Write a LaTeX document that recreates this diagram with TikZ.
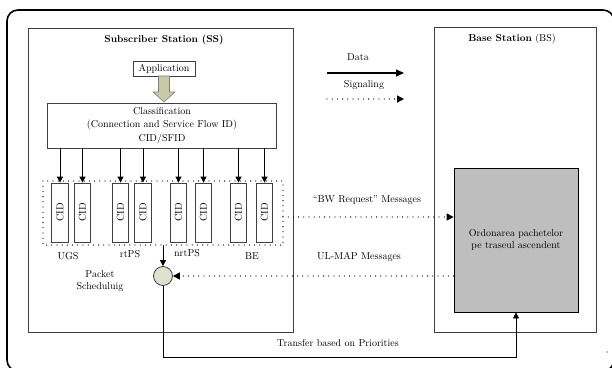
\documentclass[tikz,border=0pt]{standalone}
\usepackage{graphicx}
\usetikzlibrary{arrows.meta}
\definecolor{boxline}{HTML}{404040}
\definecolor{fatfill}{HTML}{C6CAA8}
\definecolor{circfill}{HTML}{DDE2CC}
\definecolor{grayfill}{HTML}{BEBEBE}
\tikzset{
  base/.style={font=\fontsize{10}{12}\selectfont},
  frame/.style={draw=black, line width=1.6pt, rounded corners=11pt},
  panel/.style={draw=boxline, line width=0.8pt},
  plainbox/.style={draw=boxline, line width=0.8pt, inner sep=0pt},
  cidbox/.style={draw=boxline, line width=0.8pt, minimum width=16.5pt, minimum height=59pt, inner sep=0pt},
  arr/.style={line width=0.8pt, -{Triangle[length=6pt,width=6pt]}},
  dotline/.style={line width=1.3pt, line cap=round, dash pattern=on 0pt off 5.2pt},
  dotarr/.style={dotline, -{Triangle[length=7pt,width=7pt]}},
  lbl/.style={base, inner sep=0pt},
}
\begin{document}
\begin{tikzpicture}[x=1pt,y=-1pt]
\useasboundingbox (0,0) rectangle (612,367);
\clip (0,0) rectangle (612,367);
% outer frame
\draw[frame] (7,10) rectangle (614,371);
% panels
\node[panel, minimum width=265pt, minimum height=304pt, inner sep=0pt] (ss) at (160.5,180) {};
\node[panel, minimum width=162pt, minimum height=305pt, inner sep=0pt] (bs) at (515,179.5) {};
\node[lbl, font=\fontsize{10}{12}\selectfont\bfseries] (sst) at (164,40) {Subscriber Station (SS)};
\node[lbl] (bst) at (512,38.5) {\textbf{Base Station} (BS)};
% application
\node[plainbox, minimum width=62pt, minimum height=15pt, base] (app) at (164,68.5) {Application};
% fat arrow
\draw[draw=gray, fill=fatfill, line width=0.6pt] (158.5,76) -- (169.5,76) -- (169.5,92) -- (175,92) -- (164,102) -- (153,92) -- (158.5,92) -- cycle;
% classification
\node[plainbox, minimum width=229pt, minimum height=45pt, align=center, font=\fontsize{10}{13.5}\selectfont] (cls) at (162,125.5) {Classification\\(Connection and Service Flow ID)\\CID/SFID};
% CID boxes
\foreach \i/\x in {1/60,2/82.5,3/120.5,4/143,5/178.5,6/203.5,7/238.5,8/264.5}{
  \node[cidbox] (c\i) at (\x,212.5) {\rotatebox{90}{\fontsize{10}{12}\selectfont CID}};
  \draw[arr] (c\i.north |- cls.south) -- (c\i.north);
}
% dotted group
\draw[dotline] (43,181) rectangle (283,245);
\coordinate (grpbot) at (163,245);
\coordinate (grpright) at (283,217);
\node[lbl] (ugs) at (68,256) {UGS};
\node[lbl] (rtps) at (130,254) {rtPS};
\node[lbl] (nrtps) at (187,253) {nrtPS};
\node[lbl] (be) at (252,256) {BE};
% scheduler
\node[circle, draw=boxline, fill=circfill, line width=0.8pt, minimum size=19pt, inner sep=0pt] (sch) at (163,276) {};
\draw[arr] (grpbot) -- (sch.north);
\node[lbl, align=center, font=\fontsize{10}{12}\selectfont] (schl) at (100,281) {Packet\\Scheduluig};
% BS scheduler box
\node[draw=black, fill=grayfill, line width=0.8pt, minimum width=124pt, minimum height=144pt, inner sep=0pt, align=center, font=\fontsize{10}{12}\selectfont] (ord) at (516,240) {Ordonarea pachetelor\\pe traseul ascendent};
% messages
\draw[dotarr] (grpright) -- (grpright -| ord.west);
\node[lbl] (bwl) at (367,200) {``BW Request'' Messages};
\draw[dotarr] (ord.west |- sch.east) -- (sch.east);
\node[lbl] (ull) at (359,257) {UL-MAP Messages};
% transfer
\coordinate (tr1) at (163,357);
\draw[arr] (sch.south) -- (tr1) -| (ord.south);
\node[lbl] (trl) at (338,343) {Transfer based on Priorities};
% legend
\node[lbl] (datal) at (358,57) {Data};
\coordinate (d1) at (327,73);
\coordinate (d2) at (404,73);
\draw[line width=1.1pt, -{Triangle[length=8pt,width=7pt]}] (d1) -- (d2);
\node[lbl] (sigl) at (364,85) {Signaling};
\coordinate (s1) at (327,99);
\coordinate (s2) at (404,99);
\draw[dotarr] (s1) -- (s2);
\fill (607,352) circle (0.6pt);
\end{tikzpicture}
\end{document}
